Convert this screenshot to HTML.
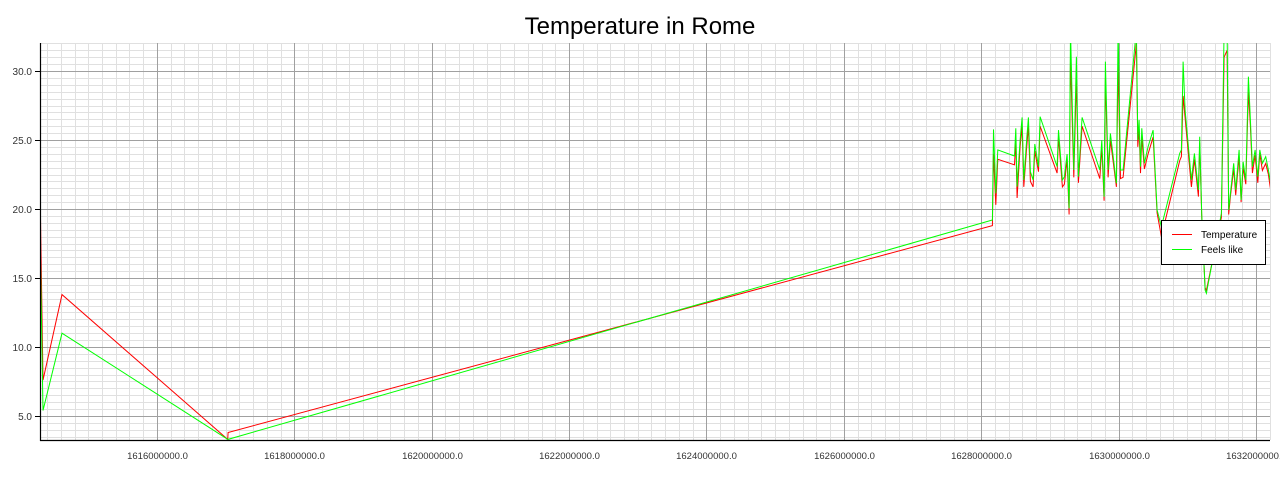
<!DOCTYPE html>
<html><head><meta charset="utf-8"><style>
html,body{margin:0;padding:0;background:#fff;width:1280px;height:480px;overflow:hidden}
svg{display:block;font-family:"Liberation Sans",sans-serif}
</style></head><body>
<svg id="chart" width="1280" height="480" viewBox="0 0 1280 480">
<text x="640" y="34" text-anchor="middle" font-size="24" fill="#000">Temperature in Rome</text>
<defs><clipPath id="clip"><rect x="40" y="43" width="1230" height="397"/></clipPath></defs>
<g id="grid"></g>
<g id="series" clip-path="url(#clip)"></g>
<g id="axes"></g>
<g>
<rect x="1161.5" y="220.5" width="104" height="44" fill="#fff" stroke="#000" stroke-width="1"/>
<line x1="1172" y1="234.5" x2="1192" y2="234.5" stroke="#ff0000" stroke-width="1"/>
<text x="1201" y="238" font-size="10" fill="#000">Temperature</text>
<line x1="1172" y1="249.5" x2="1192" y2="249.5" stroke="#00ff00" stroke-width="1"/>
<text x="1201" y="253" font-size="10" fill="#000">Feels like</text>
</g>
</svg>
<script>
// timestamps in millions of seconds
const tempTimes = [1614.297,1614.341,1614.617,1617.030,1617.035,1628.164,1628.179,1628.213,1628.242,1628.485,1628.504,1628.523,1628.567,1628.596,1628.620,1628.659,1628.688,1628.717,1628.756,1628.781,1628.834,1628.858,1629.106,1629.125,1629.183,1629.212,1629.251,1629.280,1629.300,1629.348,1629.387,1629.416,1629.470,1629.727,1629.756,1629.790,1629.809,1629.848,1629.882,1629.969,1629.994,1630.028,1630.066,1630.260,1630.280,1630.299,1630.319,1630.338,1630.377,1630.430,1630.503,1630.561,1630.624,1630.891,1630.915,1630.940,1630.969,1631.061,1631.105,1631.163,1631.182,1631.211,1631.260,1631.279,1631.498,1631.536,1631.580,1631.604,1631.629,1631.677,1631.706,1631.755,1631.784,1631.813,1631.852,1631.891,1631.920,1631.949,1631.988,1632.027,1632.056,1632.094,1632.143,1632.182,1632.211];
const tempValues = [21.7,7.6,13.8,3.3,3.8,18.8,24.0,20.3,23.6,23.2,25.0,20.8,24.5,26.0,21.6,24.2,26.0,22.0,21.6,24.2,22.7,26.0,22.6,25.2,21.6,21.8,23.6,19.6,31.0,22.3,29.5,21.9,26.0,22.2,24.5,20.6,29.5,22.3,25.0,21.6,30.5,22.2,22.3,32.0,24.5,25.8,22.6,25.2,22.9,24.0,25.2,19.7,18.0,23.5,23.8,28.2,26.6,21.6,23.6,20.9,24.8,19.5,14.3,14.1,19.4,31.0,31.5,19.6,20.9,22.9,21.0,23.8,20.5,23.0,21.8,28.5,26.0,22.6,23.9,21.9,24.0,22.8,23.3,22.5,21.5];
const feelsTimes = [1614.297,1614.341,1614.617,1617.033,1628.164,1628.179,1628.213,1628.242,1628.485,1628.504,1628.523,1628.567,1628.596,1628.620,1628.659,1628.688,1628.717,1628.756,1628.781,1628.834,1628.858,1629.106,1629.125,1629.183,1629.212,1629.251,1629.280,1629.300,1629.348,1629.387,1629.416,1629.470,1629.727,1629.756,1629.790,1629.809,1629.848,1629.882,1629.969,1629.994,1630.028,1630.066,1630.260,1630.280,1630.299,1630.319,1630.338,1630.377,1630.430,1630.503,1630.561,1630.624,1630.891,1630.915,1630.940,1630.969,1631.061,1631.105,1631.163,1631.182,1631.211,1631.260,1631.279,1631.498,1631.536,1631.580,1631.604,1631.629,1631.677,1631.706,1631.755,1631.784,1631.813,1631.852,1631.891,1631.920,1631.949,1631.988,1632.027,1632.056,1632.094,1632.143,1632.182,1632.211];
const feelsValues = [18.3,5.4,11.0,3.3,19.2,25.77,21.13,24.28,23.84,25.85,21.62,25.0,26.64,22.1,24.76,26.64,22.7,22.1,24.71,23.07,26.69,23.07,25.72,22.1,22.34,23.98,20.05,33.0,22.83,31.04,22.34,26.64,22.83,25.0,20.89,30.68,22.83,25.48,21.86,33.0,22.83,22.83,33.0,25.0,26.45,23.07,25.85,23.31,24.52,25.72,19.93,18.72,24.03,24.28,30.68,27.17,22.1,24.03,21.38,25.24,19.69,14.13,13.89,19.69,33.0,33.0,19.93,21.13,23.31,21.38,24.28,20.65,23.43,22.1,29.59,26.45,23.07,24.28,22.34,24.28,23.31,23.79,22.83,21.98];
const xTickValues = [1616,1618,1620,1622,1624,1626,1628,1630,1632];
const xTickLabels = ["1616000000.0","1618000000.0","1620000000.0","1622000000.0","1624000000.0","1626000000.0","1628000000.0","1630000000.0","1632000000.0"];
const yTickValues = [5,10,15,20,25,30];
const yTickLabels = ["5.0","10.0","15.0","20.0","25.0","30.0"];

const NS="http://www.w3.org/2000/svg";
const L=40,R=1270,T=43,B=440;
const xMin=1614.297,xMax=1632.205,yMin=3.26,yMax=32.03;
function xs(v){return L+(v-xMin)/(xMax-xMin)*(R-L);}
function ys(v){return B-(v-yMin)/(yMax-yMin)*(B-T);}
function mk(tag,attrs,parent){const e=document.createElementNS(NS,tag);for(const k in attrs)e.setAttribute(k,attrs[k]);parent.appendChild(e);return e;}
const grid=document.getElementById('grid'),axes=document.getElementById('axes'),series=document.getElementById('series');
// minor grid
for(let v=1614.4;v<xMax;v+=0.2){const x=Math.round(xs(v))+0.5;const l=mk('line',{x1:x,y1:T,x2:x,y2:B,stroke:'#e0e0e0','stroke-width':1},grid);

}
for(let v=3.5;v<yMax;v+=0.5){const y=Math.round(ys(v))+0.5;const l=mk('line',{x1:L,y1:y,x2:R,y2:y,stroke:'#e0e0e0','stroke-width':1},grid);

}
xTickValues.forEach((v,i)=>{const x=Math.round(xs(v))+0.5;
const l=mk('line',{x1:x,y1:T,x2:x,y2:B,stroke:'#a0a0a0','stroke-width':1},grid);


const t=mk('text',{x:x,y:459,'text-anchor':'middle','font-size':9.5,fill:'#333'},axes);t.textContent=xTickLabels[i];

});
yTickValues.forEach((v,i)=>{const y=Math.round(ys(v))+0.5;
const l=mk('line',{x1:L,y1:y,x2:R,y2:y,stroke:'#a0a0a0','stroke-width':1},grid);


const tk=mk('line',{x1:35,y1:y,x2:L,y2:y,stroke:'#000','stroke-width':1},axes);


const t=mk('text',{x:32,y:y+3.5,'text-anchor':'end','font-size':10,fill:'#333'},axes);t.textContent=yTickLabels[i];

});
const ax1=mk('line',{x1:L+0.5,y1:T,x2:L+0.5,y2:B+1,stroke:'#000','stroke-width':1.2},axes);


const ax2=mk('line',{x1:L,y1:B+0.5,x2:R,y2:B+0.5,stroke:'#000','stroke-width':1.2},axes);


function pts(ts,vs){return ts.map((t,i)=>xs(t).toFixed(1)+','+ys(vs[i]).toFixed(1)).join(' ');}
const g=mk('polyline',{points:pts(feelsTimes,feelsValues),fill:'none',stroke:'#00ff00','stroke-width':1},series);


const r=mk('polyline',{points:pts(tempTimes,tempValues),fill:'none',stroke:'#ff0000','stroke-width':1},series);


series.appendChild(g);
</script>
</body></html>
